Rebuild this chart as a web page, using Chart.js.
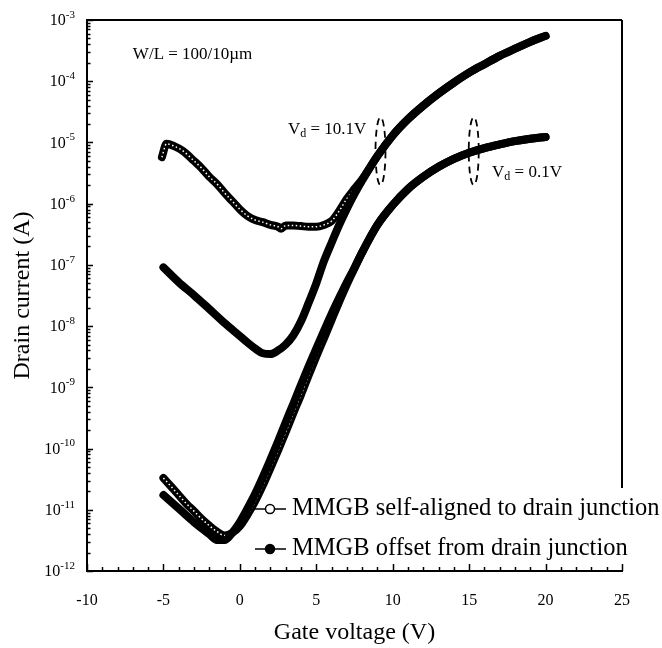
<!DOCTYPE html>
<html>
<head>
<meta charset="utf-8">
<script src="https://cdn.jsdelivr.net/npm/chart.js@4.4.1/dist/chart.umd.min.js"></script>
<style>
  html, body { margin: 0; padding: 0; background: #fff; }
  #wrap { width: 662px; height: 648px; }
</style>
</head>
<body>
<div id="wrap"><canvas id="chart" width="662" height="648"></canvas></div>
<script>
// gate voltage (V) / drain current (A)
const gateSelfHigh = [-5.1, -4.8, -4.3, -3.7, -3, -2.5, -2, -1.5, -1, -0.5, 0, 0.5, 1, 1.5, 2, 2.5, 2.7, 3, 3.5, 4, 4.5, 5, 5.5, 6, 6.5, 7, 7.5, 8, 9, 10, 11, 12, 13, 14, 15, 16, 17, 18, 19, 20];
const currentSelfHigh = [5.75e-6, 9.5e-6, 8.7e-6, 7.2e-6, 5.0e-6, 3.8e-6, 2.75e-6, 2.1e-6, 1.5e-6, 1.1e-6, 8.1e-7, 6.3e-7, 5.4e-7, 5.0e-7, 4.5e-7, 4.2e-7, 3.9e-7, 4.4e-7, 4.4e-7, 4.3e-7, 4.2e-7, 4.2e-7, 4.5e-7, 5.2e-7, 7.6e-7, 1.2e-6, 1.75e-6, 2.5e-6, 6.0e-6, 1.3e-5, 2.4e-5, 4.0e-5, 6.3e-5, 9.5e-5, 1.38e-4, 1.9e-4, 2.6e-4, 3.4e-4, 4.4e-4, 5.5e-4];

const gateOffsetHigh = [-5, -4, -3, -2, -1, 0, 0.5, 1, 1.5, 2, 2.5, 3, 3.5, 4, 4.5, 5, 5.5, 6, 6.5, 7, 7.5, 8, 9, 10, 11, 12, 13, 14, 15, 16, 17, 18, 19, 20];
const currentOffsetHigh = [9.1e-8, 5.2e-8, 3.2e-8, 1.9e-8, 1.12e-8, 6.9e-9, 5.4e-9, 4.3e-9, 3.6e-9, 3.5e-9, 4.0e-9, 5.0e-9, 7.1e-9, 1.2e-8, 2.4e-8, 5.0e-8, 1.15e-7, 2.3e-7, 4.5e-7, 8.3e-7, 1.45e-6, 2.4e-6, 6.0e-6, 1.3e-5, 2.4e-5, 4.0e-5, 6.3e-5, 9.5e-5, 1.38e-4, 1.9e-4, 2.6e-4, 3.4e-4, 4.4e-4, 5.5e-4];

const gateSelfLow = [-5, -4.5, -4, -3.5, -3, -2.5, -2, -1.5, -1, -0.5, 0, 0.5, 1, 1.5, 2, 2.5, 3, 3.5, 4, 4.5, 5, 5.5, 6, 6.5, 7, 7.5, 8, 9, 10, 11, 12, 13, 14, 15, 16, 17, 18, 19, 20];
const currentSelfLow = [3.3e-11, 2.4e-11, 1.74e-11, 1.26e-11, 9.5e-12, 7.1e-12, 5.5e-12, 4.4e-12, 3.8e-12, 4.2e-12, 5.4e-12, 8.3e-12, 1.38e-11, 2.5e-11, 4.8e-11, 9.3e-11, 1.86e-10, 3.8e-10, 7.6e-10, 1.58e-9, 3.2e-9, 6.3e-9, 1.26e-8, 2.5e-8, 4.8e-8, 8.9e-8, 1.6e-7, 4.5e-7, 9.5e-7, 1.74e-6, 2.75e-6, 4.0e-6, 5.4e-6, 6.8e-6, 8.1e-6, 9.3e-6, 1.05e-5, 1.15e-5, 1.23e-5];

const gateOffsetLow = [-5, -4, -3, -2, -1.5, -1, -0.5, 0, 0.5, 1, 1.5, 2, 2.5, 3, 3.5, 4, 4.5, 5, 5.5, 6, 6.5, 7, 7.5, 8, 9, 10, 11, 12, 13, 14, 15, 16, 17, 18, 19, 20];
const currentOffsetLow = [1.74e-11, 1.05e-11, 6.3e-12, 4.0e-12, 3.2e-12, 3.2e-12, 4.2e-12, 6.3e-12, 1.05e-11, 1.82e-11, 3.4e-11, 6.6e-11, 1.32e-10, 2.7e-10, 5.4e-10, 1.1e-9, 2.2e-9, 4.3e-9, 8.3e-9, 1.58e-8, 2.9e-8, 5.2e-8, 8.9e-8, 1.6e-7, 4.5e-7, 9.5e-7, 1.74e-6, 2.75e-6, 4.0e-6, 5.4e-6, 6.8e-6, 8.1e-6, 9.3e-6, 1.05e-5, 1.15e-5, 1.23e-5];

const xMajorTicks = [-10, -5, 0, 5, 10, 15, 20, 25];
const yDecades = [-12, -11, -10, -9, -8, -7, -6, -5, -4, -3];
const legendLabels = ['MMGB self-aligned to drain junction', 'MMGB offset from drain junction'];

const serif = "'Liberation Serif', 'Times New Roman', serif";
const toPoints = (xs, ys) => xs.map((x, i) => ({ x, y: ys[i] }));

const band = (label, xs, ys, extra = {}) => ({
  label,
  data: toPoints(xs, ys),
  borderColor: '#000',
  borderWidth: 8,
  borderCapStyle: 'round',
  borderJoinStyle: 'round',
  pointRadius: 0,
  cubicInterpolationMode: 'monotone',
  fill: false,
  ...extra,
});

const dotted = { borderColor: '#fff', borderWidth: 1.5, borderDash: [1.5, 2.5], borderCapStyle: 'butt' };

// text with sub/superscript pieces: [text, size, dy]
const drawParts = (ctx, x, y, parts) => {
  let cx = x;
  parts.forEach(([text, size, dy]) => {
    ctx.font = `${size}px ${serif}`;
    ctx.fillText(text, cx, y + dy);
    cx += ctx.measureText(text).width;
  });
};

const dashedOval = (ctx, cx, cy) => {
  ctx.save();
  ctx.setLineDash([7, 5]);
  ctx.lineWidth = 1.8;
  ctx.strokeStyle = '#000';
  ctx.beginPath();
  ctx.ellipse(cx, cy, 5, 34, 0, 0, Math.PI * 2);
  ctx.stroke();
  ctx.restore();
};

const framePlugin = {
  id: 'frame',
  afterDraw(chart) {
    const { ctx, chartArea: area, scales: { x, y } } = chart;
    ctx.save();
    ctx.strokeStyle = '#000';
    ctx.fillStyle = '#000';

    // top and (broken) right border
    ctx.lineWidth = 2;
    ctx.beginPath();
    ctx.moveTo(area.left, area.top);
    ctx.lineTo(area.right, area.top);
    ctx.moveTo(area.right, area.top);
    ctx.lineTo(area.right, 488);
    ctx.stroke();

    // inward ticks
    ctx.lineWidth = 1.5;
    ctx.beginPath();
    for (let v = -10; v <= 25; v += 1) {
      const px = Math.round(x.getPixelForValue(v)) + 0.5;
      const len = xMajorTicks.includes(v) ? 7 : 4;
      ctx.moveTo(px, area.bottom);
      ctx.lineTo(px, area.bottom - len);
    }
    yDecades.forEach((e) => {
      const py = Math.round(y.getPixelForValue(10 ** e)) + 0.5;
      ctx.moveTo(area.left, py);
      ctx.lineTo(area.left + 6, py);
      if (e < -3) {
        for (let m = 2; m <= 9; m++) {
          const pm = Math.round(y.getPixelForValue(m * 10 ** e)) + 0.5;
          ctx.moveTo(area.left, pm);
          ctx.lineTo(area.left + 3.5, pm);
        }
      }
    });
    ctx.stroke();

    // y tick labels 10^n
    ctx.textBaseline = 'middle';
    ctx.textAlign = 'left';
    yDecades.forEach((e) => {
      const py = y.getPixelForValue(10 ** e);
      ctx.font = `16px ${serif}`;
      const wBase = ctx.measureText('10').width;
      ctx.font = `11px ${serif}`;
      const wExp = ctx.measureText(String(e)).width;
      drawParts(ctx, 75 - wBase - wExp, py + 1, [['10', 16, 0], [String(e), 11, -6]]);
    });

    // annotations
    drawParts(ctx, x.getPixelForValue(-7.0), y.getPixelForValue(2.7e-4), [['W/L = 100/10\u00b5m', 17, 0]]);
    drawParts(ctx, x.getPixelForValue(3.15), y.getPixelForValue(1.6e-5), [['V', 17, 0], ['d', 12, 4], [' = 10.1V', 17, 0]]);
    drawParts(ctx, x.getPixelForValue(16.5), y.getPixelForValue(3.2e-6), [['V', 17, 0], ['d', 12, 4], [' = 0.1V', 17, 0]]);
    dashedOval(ctx, x.getPixelForValue(9.2), y.getPixelForValue(7.2e-6));
    dashedOval(ctx, x.getPixelForValue(15.3), y.getPixelForValue(7.2e-6));

    // legend
    legendLabels.forEach((label, i) => {
      const ly = 509 + i * 40;
      ctx.lineWidth = 1.5;
      ctx.beginPath();
      ctx.moveTo(255, ly);
      ctx.lineTo(286, ly);
      ctx.stroke();
      ctx.beginPath();
      ctx.arc(270, ly, 4.5, 0, Math.PI * 2);
      ctx.fillStyle = i === 0 ? '#fff' : '#000';
      ctx.fill();
      ctx.stroke();
      ctx.fillStyle = '#000';
      drawParts(ctx, 292, ly, [[label, 24.5, 0]]);
    });
    ctx.restore();
  },
};

new Chart(document.getElementById('chart'), {
  type: 'line',
  data: {
    datasets: [
      band('offset, Vd = 10.1V', gateOffsetHigh, currentOffsetHigh),
      band('offset, Vd = 0.1V', gateOffsetLow, currentOffsetLow),
      band('self-aligned dots, Vd = 10.1V', gateSelfHigh, currentSelfHigh, dotted),
      band('self-aligned dots, Vd = 0.1V', gateSelfLow, currentSelfLow, dotted),
      band('self-aligned, Vd = 10.1V', gateSelfHigh, currentSelfHigh),
      band('self-aligned, Vd = 0.1V', gateSelfLow, currentSelfLow),
    ],
  },
  options: {
    responsive: false,
    animation: false,
    layout: { padding: { left: 4, top: 20, right: 40, bottom: 0 } },
    plugins: { legend: { display: false }, tooltip: { enabled: false } },
    scales: {
      x: {
        type: 'linear',
        min: -10,
        max: 25,
        grid: { display: false },
        border: { color: '#000', width: 2 },
        ticks: { stepSize: 5, color: '#000', font: { family: serif, size: 16 }, padding: 12, maxRotation: 0 },
        title: { display: true, text: 'Gate voltage (V)', color: '#000', font: { family: serif, size: 24 }, padding: { top: 4, bottom: 1 } },
        afterFit: (scale) => { scale.height = 77; },
      },
      y: {
        type: 'logarithmic',
        min: 1e-12,
        max: 1e-3,
        grid: { display: false },
        border: { color: '#000', width: 2 },
        ticks: { display: false },
        title: { display: true, text: 'Drain current (A)', color: '#000', font: { family: serif, size: 24 }, padding: { top: 4, bottom: 4 } },
        afterFit: (scale) => { scale.width = 83; },
      },
    },
  },
  plugins: [framePlugin],
});
</script>
</body>
</html>
